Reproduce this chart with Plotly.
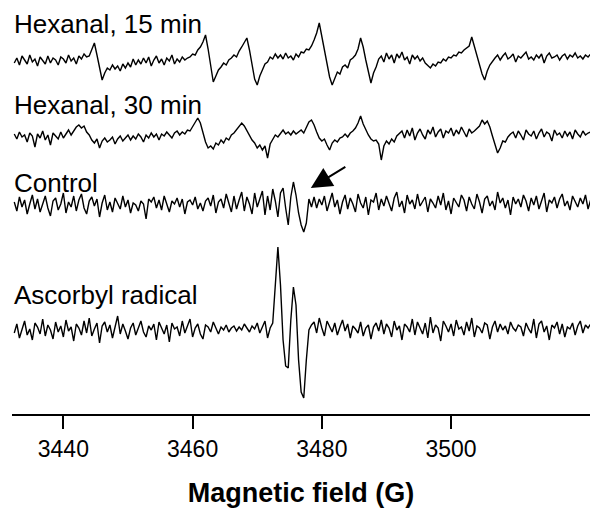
import numpy as np
import plotly.graph_objects as go

# Field sweep (G): first point and step of the recorded spectra
field_start = 3432.4
field_step = 0.4

# Spectra (arbitrary units)
hexanal_15 = [
    -2, 3, -4, 5, 1, -3, 6, -1, 2, -5, 4, 0, -3, 5, -2, 3,
    1, -4, 4, 2, -2, 6, 0, 3, -3, 5, 2, 7, 4,
    5, 11, 18, 6, -8, -19, -12, -7, -9, -4, -8, -5, -10, -3, -7, -2, -6, 2, -4, 1,
    -3, 3, -2, 4, -5, 1, 5, -2, 2, -4, 3, 0, 6, -3, 2, -1, 4, 1, 3,
    4, 7, 6, 11, 14, 19, 26, 12, -6, -21,
    -15, -9, -6, -2, -4, 1, 3, 6, 4, 10,
    14, 18, 23, 11, -4, -18, -24, -15, -9, -3,
    -1, 4, 2, 7, 3, 6, 2, 8, 3, 5,
    1, 7, 4, 9, 8, 12, 11, 15, 21, 28,
    38, 24, 8, -6, -16, -24, -17, -11, -13, -6,
    -4, -7, 1, 3, 6, 12, 23, 14, 1, -12,
    -22, -12, -6, 2,
    5, -1, 8, 2, 6, -2, 7, 3, 9, 1, 4, -3, 6, 2, 5, 0, 3,
    -2, -5, -7, -3, -5, -1, -2, 2, 0, 4, 3, 6, 5, 9, 8, 11, 13, 15, 24, 14,
    5, -5, -13, -19, -10, -4, 0, 3,
    6, 1, 5, 8, 2, 4, 7, -1, 5, 3, 6, 9, 2, 4, 1, 6, 3, 7, -2, 5,
    8, 3, 4, 6, 1, 5, 7, 2, 6, 4, 8, 3, 5, 2, 6, 4, 7,
]

hexanal_30 = [
    2, -3, 4, -1, 1, -6, 3, 0, -11, 2, -2, 5, -4, 1, -9, 3, 0, -3, 4, -2, 2, 6, 1,
    5, 9, 11, 8, 10, 4, 1,
    -4, -7, -3, -12, -5, -2, -6, -4, -1, -8, -3, 0, -5,
    -2, 1, -4, 0, -3, 2, -1, -6, 1, -2, 3, -1, 2, -4, 2, 0, 4, 1, -2, 3, 5, 1, 4, 2, 6,
    5, 9, 14, 18, 13, 3, -6, -12, -10, -13,
    -7, -9, -4, -7, -2, -4, 1, 3, 6, 9,
    13, 10, 5, 1, -4, -7, -12, -9, -14, -10,
    -22, -8, -3, 1, -1, 3, 6, 2, 4, 1,
    5, 2, 4, 6, 3, 9, 14, 16, 11, 4,
    -2, -5, -3, -9, -14, -7, -4, -6, -2, -1,
    2, -1, 3, 5, 8, 13, 20, 12, 6, 1,
    -3, -5, -4, -8, -24, -10, -5, -8, -3, -6,
    0, 3,
    5, -2, 6, 0, 8, -4, 3, 7, 1, -3, 6, 2, 9, -1, 4, 7, -2, 5, 3, 8,
    0, 6, 2, 9, 4, -1, 7, 3, 5, 8,
    10, 16, 12, 15, 9, 0, -9, -17, -12, -5, -6, -1, 2,
    4, -2, 5, 1, -4, 6, 2, 0, 5, -3, 3, 7, -1, 4, 2, -5, 6, 1, 3, -2,
    5, 0, 4, -3, 6, 2, -1, 5, 1, 3, 4,
]

control = [
    3, -6, 8, -2, 5, -9, 1, 10, -4, 6, -7, 2,
    9, -3, -11, 4, 7, -5, 1, 12, -8, 3, -2, 9,
    -6, 5, 11, -3, -9, 4, 8, -1, 6, -12, 2, 10,
    -5, 3, -7, 7, 1, -4, 9, -2, 5, -8, 2, 0,
    -6, 4, 1, -14, 6, 3, 8, -3, 5, -5, 9, 2,
    -7, 4, 1, 7, -2, 6, -9, 3, 5, 0, 8, -4,
    2, -6, 4, 7, -1, 10, -8, 3, 6, -3, 11, 2,
    -7, 9, -4, 5, 13, -6, 8, 1, -9, 12, -2, 6,
    14, -10, 9, -5, 16, 4, -12, 12, 17, -3, -20,
    8, 23, 10, -8, -20, -27, -18, 6, -2,
    8, -3, 6, 0, 9, -6, 4, 12, -2, 5, -9, 3,
    10, -4, 7, 1, -7, 11, 2, -3, 8, -10, 5, 3,
    12, -5, 6, -1, 9, 2, -6, 7, 13, -2, 4, -8,
    10, 1, 5, -4, 11, -1, 3, 8, -7, 6, 2, -3,
    9, 0, 12, -5, 4, -9, 7, 3, -2, 10, 5, -6,
    8, 1, -4, 11, 3, -8, 6, 9, -1, 4, -5, 13,
    2, 7, -3, 5, -10, 8, 1, 6, -2, 10, 4, -6,
    7, 0, 9, -4, 3, 12, -7, 5, 2, 8, -3, 6,
    11, -1, 4, -5, 9, 3, -2, 7, 1, 10, -4, 5,
]

ascorbyl = [
    -3, 6, -8, 2, 9, -5, 1, -10, 7, 3, -4, 11, -6,
    5, 0, -9, 8, -2, 4, -7, 10, -1, 3, -11, 6, 2,
    -5, 9, -3, 12, -6, 1, 7, -13, 4, 8, -2, 5, -8,
    3, 14, -4, 6, -1, -9, 2, 7, -5, 3, 9, -2, -7,
    4, 0, 6, -10, 8, 2, -4, 5, -12, 7, 1, 3, -6,
    9, -3, 4, 11, -7, 2, 6, -4, -9, 5, 3, -2, 8,
    1, -4, 3, 0, 5, -2, 2, 4, -1, 3, 0, 6, 2, -2, 4, 1, 7, -3, 3, 9, -8,
    2, 7, 50, 83, 45, -10, -36, -38, 10, 43, 25, -30, -62, -68, -30, 0,
    5, 8, -3, 12, 2, -6, 9, 4, -2, 7, -5, 3,
    10, -1, 6, -8, 4, 1, -3, 8, -6, 2, 5, -9,
    3, 7, -1, 10, -4, 6, 2, -7, 9, 0, 4, -10,
    6, 3, -2, 11, -5, 8, 1, -4, 7, -8, 13, -3,
    5, 2, -11, 9, 4, -2, 6, -6, 10, 1, 3, -5,
    8, -1, 12, -7, 4, 2, -3, 7, 5, -9, 3, 9,
    -2, 6, 0, 4, -4, 8, 2, -1, 5, 3, -6, 7,
    1, -3, 11, -8, 6, 9, -2, 4, -10, 5, 2, 8,
    -4, 6, -7, 3, 1, 7, -5, 4, 9, -3, 5, 2, 6,
]

labels = ["Hexanal, 15 min", "Hexanal, 30 min", "Control", "Ascorbyl radical"]
series = [hexanal_15, hexanal_30, control, ascorbyl]
tick_vals = [3440, 3460, 3480, 3500]

# layout (stack offsets and label heights)
offsets = [353, 278, 209, 84]
label_y = [390, 309, 231.5, 119.5]

fig = go.Figure()
for vals, off in zip(series, offsets):
    x = np.round(field_start + field_step * np.arange(len(vals)), 2)
    y = np.array(vals, dtype=float) + off
    fig.add_trace(go.Scatter(x=x, y=y, mode="lines",
                             line=dict(color="black", width=1.4),
                             hoverinfo="skip", showlegend=False))

for text, ly in zip(labels, label_y):
    fig.add_annotation(x=0, xref="paper", y=ly, yref="y", text=text,
                       showarrow=False, xanchor="left", yanchor="middle",
                       font=dict(size=26, color="black"))

fig.add_annotation(x=3478.3, y=226, xref="x", yref="y", text="",
                   showarrow=True, arrowhead=2, arrowsize=2.1, arrowwidth=2,
                   arrowcolor="black", ax=36, ay=-22)

fig.update_layout(
    width=590, height=508,
    margin=dict(l=12, r=0, t=0, b=94),
    plot_bgcolor="white", paper_bgcolor="white",
    font=dict(family="Arial, Liberation Sans, sans-serif", color="black"),
    showlegend=False,
)
fig.update_xaxes(
    range=[3432.05, 3521.5], showline=True, linecolor="black", linewidth=2,
    ticks="outside", ticklen=13, tickwidth=2, tickcolor="black",
    tickvals=tick_vals, tickfont=dict(size=23),
    showgrid=False, zeroline=False, automargin=False,
    title=dict(text="<b>Magnetic field (G)</b>", font=dict(size=27), standoff=30),
)
fig.update_yaxes(range=[0, 414], visible=False, showgrid=False, zeroline=False)

fig.write_html("out.html",
               config={"displayModeBar": False, "staticPlot": True},
               post_script="document.body.style.margin='0px';"
                           "document.body.style.overflow='hidden';")
